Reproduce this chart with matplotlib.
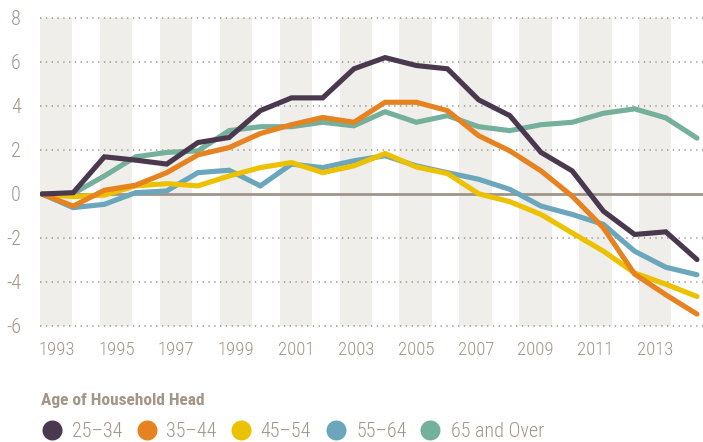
import matplotlib
matplotlib.use('Agg')
import matplotlib.pyplot as plt
from matplotlib import font_manager as fm
from matplotlib.lines import Line2D

# ---------------- data ----------------
years = list(range(1993, 2015))
series_names = ['25\u201334', '35\u201344', '45\u201354', '55\u201364', '65 and Over']
age_25_34 = [0, 0.06, 1.69, 1.54, 1.36, 2.34, 2.57, 3.79, 4.37, 4.37, 5.69,
             6.20, 5.84, 5.69, 4.28, 3.56, 1.89, 1.05, -0.78, -1.84, -1.72, -2.98]
age_35_44 = [0, -0.55, 0.17, 0.40, 0.97, 1.78, 2.11, 2.75, 3.15, 3.48, 3.26,
             4.17, 4.17, 3.79, 2.65, 1.96, 1.05, -0.10, -1.54, -3.64, -4.58, -5.46]
age_45_54 = [0, -0.12, -0.05, 0.37, 0.47, 0.37, 0.82, 1.20, 1.43, 0.97, 1.28,
             1.84, 1.23, 0.93, 0.01, -0.35, -0.93, -1.77, -2.60, -3.59, -4.10, -4.66]
age_55_64 = [0, -0.62, -0.47, 0.06, 0.14, 0.97, 1.08, 0.37, 1.36, 1.20, 1.51,
             1.74, 1.28, 0.97, 0.67, 0.21, -0.55, -0.93, -1.38, -2.60, -3.33, -3.67]
age_65_over = [0, 0.02, 0.82, 1.69, 1.89, 1.96, 2.88, 3.06, 3.06, 3.26, 3.10,
               3.74, 3.26, 3.56, 3.06, 2.88, 3.15, 3.26, 3.67, 3.87, 3.46, 2.54]
y_ticks = [-6, -4, -2, 0, 2, 4, 6, 8]
x_tick_labels = ['1993', '1995', '1997', '1999', '2001', '2003', '2005',
                 '2007', '2009', '2011', '2013']
legend_title = 'Age of Household Head'

# ---------------- style ----------------
colors = ['#4a384f', '#e6821f', '#ecc100', '#6aa6bc', '#74b09b']
stripe_color = '#efeeea'
text_color = '#a39587'
grid_color = '#a09488'

names = {f.name for f in fm.fontManager.ttflist}
FONT = 'DejaVu Sans'
STRETCH = 'normal'
for cand in ['Roboto Condensed', 'Liberation Sans Narrow', 'Open Sans Condensed']:
    if cand in names:
        FONT = cand
        break
else:
    if any(f.name == 'DejaVu Sans' and 'condensed' in str(f.stretch) for f in fm.fontManager.ttflist):
        STRETCH = 'condensed'

W, H = 703, 442
fig = plt.figure(figsize=(W / 100, H / 100), dpi=100)
fig.patch.set_facecolor('white')

# pixel geometry
top_px, bot_px = 11, 333
ax = fig.add_axes([40 / W, 1 - bot_px / H, 663 / W, (bot_px - top_px) / H])
px_per_unit = 22.0
px_per_year = 31.19
x0_px = 42
ax.set_ylim(-6 - (bot_px - 326) / px_per_unit, 8 + (18 - top_px) / px_per_unit)
ax.set_xlim(years[0] - (x0_px - 40) / px_per_year, years[0] + (703 - x0_px) / px_per_year)
ax.axis('off')

def px2year(px):
    return years[0] + (px - x0_px) / px_per_year

# stripes
stripe_period = 59.9
for k in range(len(x_tick_labels)):
    s = px2year(40 + stripe_period * k)
    e = px2year(40 + stripe_period * k + 32.5)
    ax.fill_between([s, e], -6, 8, color=stripe_color, lw=0, zorder=0)

# grid lines
for v in y_ticks:
    if v == 0:
        continue
    ax.plot(ax.get_xlim(), [v, v], color=grid_color, lw=1.1,
            dashes=(0.9, 2.9), zorder=1, solid_capstyle='butt')
ax.plot(ax.get_xlim(), [0, 0], color=grid_color, lw=2.0, zorder=1)

# series lines
all_series = [age_25_34, age_35_44, age_45_54, age_55_64, age_65_over]
zorders = [7, 6, 5, 4, 3]
for vals, c, z in zip(all_series, colors, zorders):
    ax.plot(years, vals, color=c, lw=3.7, zorder=z,
            solid_capstyle='round', solid_joinstyle='miter')

tick_font = dict(family=FONT, stretch=STRETCH, color=text_color, fontweight='light')

# y tick labels
for v in y_ticks:
    ax.text(px2year(21), v - 7 / px_per_unit, str(v),
            ha='right', va='baseline', fontsize=14.5, clip_on=False, **tick_font)

# x tick labels
for k, lab in enumerate(x_tick_labels):
    xc = px2year(40 + stripe_period * k + 16.5)
    ax.text(xc, 8 - (355 - 18) / px_per_unit, lab, ha='center', va='baseline',
            fontsize=13.5, clip_on=False, **tick_font)

# legend
def fx(px):
    return px / W

def fy(py):
    return 1 - py / H

fig.text(fx(41), fy(405), legend_title, ha='left', va='baseline', fontsize=12.5,
         fontweight='bold', family=FONT, stretch=STRETCH, color=text_color)
circle_x = [52, 146.5, 241, 335.5, 430]
text_x = [72, 166, 260, 356, 451]
for name, c, cx, tx in zip(series_names, colors, circle_x, text_x):
    fig.add_artist(Line2D([fx(cx)], [fy(430)], marker='o', markersize=14.4,
                          color=c, markeredgewidth=0, transform=fig.transFigure))
    fig.text(fx(tx), fy(437), name, ha='left', va='baseline', fontsize=14.5,
             family=FONT, stretch=STRETCH, color=text_color, fontweight='light')

fig.savefig('out.png', dpi=100, facecolor='white')
